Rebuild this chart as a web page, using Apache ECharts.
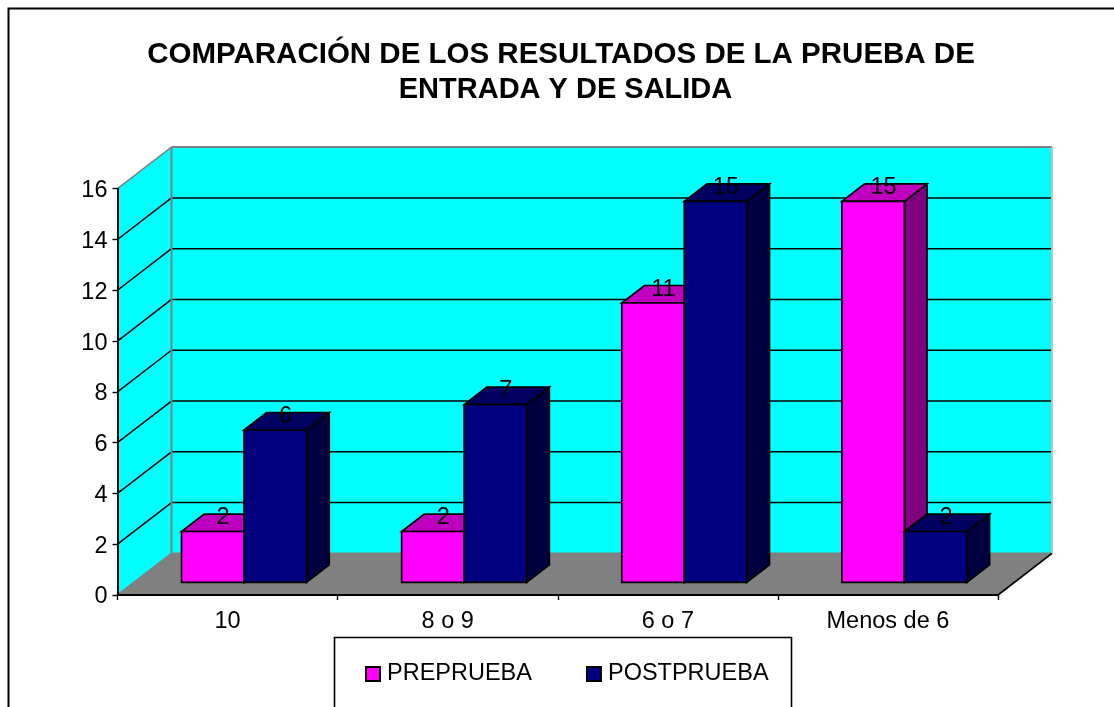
<!DOCTYPE html>
<html><head><meta charset="utf-8">
<style>html,body{margin:0;padding:0;background:#fff}#c{width:1114px;height:707px}</style>
<script src="https://cdn.jsdelivr.net/npm/echarts@6/dist/echarts.min.js"></script>
</head><body><div id="c"></div>
<script>
const categories = ['10', '8 o 9', '6 o 7', 'Menos de 6'];
const prePrueba = [2, 2, 11, 15];
const postPrueba = [6, 7, 15, 2];
const seriesNames = ['PREPRUEBA', 'POSTPRUEBA'];
const titleLines = ['COMPARACIÓN DE LOS RESULTADOS DE LA PRUEBA DE', 'ENTRADA Y DE SALIDA'];
const yMax = 16, yStep = 2;
const wallTicks = [2, 4, 6, 8, 10, 12, 14];

// oblique projection of the 3D box
const DX = 54, DY = -41.6;          // full depth of the box
const BAR_D = 0.305, BAR_DEPTH = 0.42; // bar front position and depth, as a share of box depth
const BAR_W = 0.284;                // bar width as a share of the category band
const FONT = '"Liberation Sans", Arial, sans-serif';

const chart = echarts.init(document.getElementById('c'), null, { renderer: 'canvas' });

function poly(points, fill, stroke, lw) {
  return { type: 'polygon', shape: { points }, style: { fill, stroke: stroke || 'none', lineWidth: lw || 1 } };
}
function seg(a, b, stroke, lw) {
  return { type: 'line', shape: { x1: a[0], y1: a[1], x2: b[0], y2: b[1] }, style: { stroke, lineWidth: lw } };
}

function renderWalls(params, api) {
  const cs = params.coordSys;
  const L = cs.x, R = cs.x + cs.width;
  const y0 = api.coord([0, 0])[1], yT = api.coord([0, yMax])[1];
  const children = [
    poly([[L, y0], [L + DX, y0 + DY], [R + DX, y0 + DY], [R, y0]], '#808080', '#808080', 1),
    poly([[L, y0], [L, yT], [L + DX, yT + DY], [L + DX, y0 + DY]], '#00FFFF', null, 1),
    poly([[L + DX, yT + DY], [R + DX, yT + DY], [R + DX, y0 + DY], [L + DX, y0 + DY]], '#00FFFF', null, 1)
  ];
  wallTicks.forEach(v => {
    const y = api.coord([0, v])[1];
    children.push(seg([L, y], [L + DX, y + DY], '#000', 1.5));
    children.push(seg([L + DX, y + DY], [R + DX, y + DY], '#000', 1.5));
  });
  children.push(seg([L, yT], [L + DX, yT + DY], '#808080', 1.6));
  children.push(seg([L + DX, yT + DY], [R + DX, yT + DY], '#808080', 2));
  children.push(seg([L + DX, yT + DY], [L + DX, y0 + DY], '#808080', 2));
  children.push(seg([L + DX, y0 + DY], [R + DX, y0 + DY], '#808080', 2));
  children.push(seg([L, y0], [L + DX, y0 + DY], '#808080', 1.6));
  children.push(seg([R + DX, yT + DY], [R + DX, y0 + DY], '#C0C0C0', 2));
  children.push(seg([R, y0], [R + DX, y0 + DY], '#000', 1.6));
  return { type: 'group', children };
}

function barRenderer(slot, front, top, side) {
  return function (params, api) {
    const cat = api.value(0), val = api.value(1);
    const band = api.size([1, 0])[0];
    const w = band * BAR_W;
    const base = api.coord([cat, 0]), head = api.coord([cat, val]);
    const ox = DX * BAR_D, oy = DY * BAR_D;
    const dx = DX * BAR_DEPTH, dy = DY * BAR_DEPTH;
    const x0 = base[0] + ox + (slot - 1) * w, x1 = x0 + w;
    const yb = base[1] + oy, yt = head[1] + oy;
    return {
      type: 'group',
      children: [
        poly([[x1, yb], [x1 + dx, yb + dy], [x1 + dx, yt + dy], [x1, yt]], side, '#000', 1.7),
        poly([[x0, yt], [x0 + dx, yt + dy], [x1 + dx, yt + dy], [x1, yt]], top, '#000', 1.7),
        poly([[x0, yb], [x1, yb], [x1, yt], [x0, yt]], front, '#000', 1.7),
        { type: 'text', z2: 50, style: {
            text: String(val), x: (x0 + x1) / 2 + dx / 2 - 1, y: yt + dy / 2 + 7,
            align: 'center', verticalAlign: 'bottom',
            font: '23.5px ' + FONT, fill: '#000' } }
      ]
    };
  };
}

function pairs(values) { return values.map((v, i) => [i, v]); }

const titleStyle = { fontFamily: FONT, fontWeight: 'bold', fontSize: 29.5, lineHeight: 35.5, color: '#000' };

chart.setOption({
  animation: false,
  backgroundColor: '#fff',
  title: [
    { text: titleLines[0], left: 556, top: 32, textAlign: 'center', textStyle: titleStyle },
    { text: titleLines[1], left: 560.5, top: 67.5, textAlign: 'center', textStyle: Object.assign({}, titleStyle, { fontSize: 29 }) }
  ],
  grid: { left: 117.5, right: 116, top: 188.7, bottom: 112, containLabel: false },
  xAxis: {
    type: 'category', data: categories, z: 5,
    axisLine: { lineStyle: { color: '#000', width: 2 } },
    axisTick: { show: true, length: 5, lineStyle: { color: '#000', width: 1.4 } },
    axisLabel: { color: '#000', fontFamily: FONT, fontSize: 23.5, margin: 15 },
    splitLine: { show: false }
  },
  yAxis: {
    type: 'value', min: 0, max: yMax, interval: yStep, z: 5,
    axisLine: { show: true, lineStyle: { color: '#000', width: 2 } },
    axisTick: { show: true, length: 5, lineStyle: { color: '#000', width: 1.4 } },
    axisLabel: {
      margin: 10, formatter: v => '{a|' + v + '}',
      rich: { a: { color: '#000', fontFamily: FONT, fontSize: 23.5, padding: [4, 0, 0, 0] } }
    },
    splitLine: { show: false }
  },
  legend: {
    data: seriesNames,
    left: 365, top: 662,
    itemWidth: 14, itemHeight: 14, itemGap: 54, padding: 0,
    icon: 'rect',
    textStyle: { fontFamily: FONT, fontSize: 23.5, color: '#000', padding: [2, 0, 0, 2] }
  },
  graphic: [
    { type: 'rect', z: -1, shape: { x: 8.5, y: 8.5, width: 1130, height: 760 }, style: { fill: 'none', stroke: '#000', lineWidth: 2 } },
    { type: 'rect', z: -1, shape: { x: 334.5, y: 637.5, width: 457, height: 100 }, style: { fill: '#fff', stroke: '#000', lineWidth: 1.6 } }
  ],
  series: [
    { type: 'custom', name: 'paredes', z: 1, silent: true, data: [[0, 0]], renderItem: renderWalls, encode: { x: 0, y: 1 } },
    { type: 'custom', name: seriesNames[0], z: 2, data: pairs(prePrueba), encode: { x: 0, y: 1 },
      itemStyle: { color: '#FF00FF', borderColor: '#000', borderWidth: 1.4 },
      renderItem: barRenderer(0, '#FF00FF', '#BF00BF', '#800080') },
    { type: 'custom', name: seriesNames[1], z: 3, data: pairs(postPrueba), encode: { x: 0, y: 1 },
      itemStyle: { color: '#000080', borderColor: '#000', borderWidth: 1.4 },
      renderItem: barRenderer(1, '#000080', '#000060', '#000040') }
  ]
});
</script></body></html>
